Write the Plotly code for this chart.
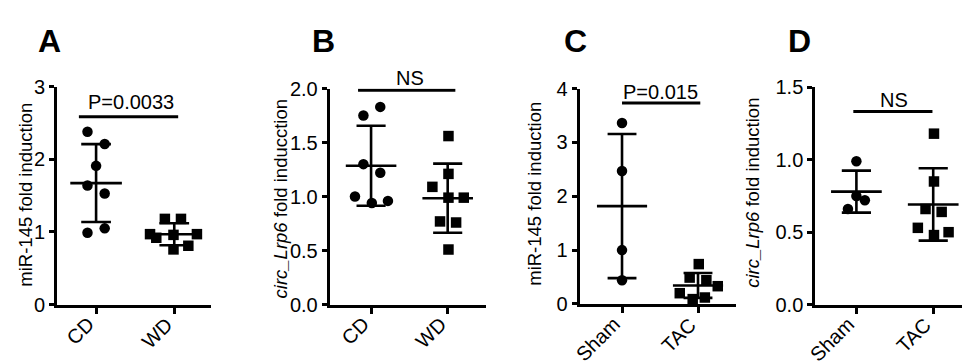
import numpy as np
import plotly.graph_objects as go

# ---------------- data ----------------
panel_letters = ["A", "B", "C", "D"]
cats_diet = ["CD", "WD"]
cats_surg = ["Sham", "TAC"]

y_titles = [
    "miR-145 fold induction",
    "<i>circ_Lrp6</i> fold inducction",
    "miR-145 fold induction",
    "<i>circ_Lrp6</i> fold induction",
]
sig_labels = ["P=0.0033", "NS", "P=0.015", "NS"]

# Panel A : miR-145, CD vs WD
a_cd = [2.38, 2.21, 1.91, 1.64, 1.53, 1.05, 0.99]
a_cd_jit = [-0.11, 0.11, 0.0, -0.11, 0.11, 0.11, -0.11]
a_wd = [1.18, 1.18, 0.97, 0.92, 0.96, 0.97, 0.81, 0.76]
a_wd_jit = [-0.12, 0.086, -0.31, -0.23, -0.01, 0.29, 0.18, -0.01]

# Panel B : circ_Lrp6, CD vs WD
b_cd = [1.75, 1.83, 1.30, 1.22, 1.00, 0.94, 0.96]
b_cd_jit = [-0.10, 0.12, -0.10, 0.12, -0.21, 0.01, 0.22]
b_wd = [1.56, 1.21, 1.09, 0.99, 0.99, 0.77, 0.76, 0.51]
b_wd_jit = [0.01, 0.01, -0.20, 0.01, 0.21, -0.10, 0.11, 0.01]

# Panel C : miR-145, Sham vs TAC
c_sham = [3.36, 2.47, 1.00, 0.44]
c_sham_jit = [0.0, 0.0, 0.0, 0.0]
c_tac = [0.74, 0.49, 0.44, 0.33, 0.20, 0.09, 0.12]
c_tac_jit = [0.01, -0.11, 0.11, 0.26, -0.24, -0.07, 0.09]

# Panel D : circ_Lrp6, Sham vs TAC
d_sham = [0.99, 0.75, 0.72, 0.66]
d_sham_jit = [0.0, 0.0, 0.11, -0.11]
d_tac = [1.18, 0.85, 0.66, 0.64, 0.53, 0.48, 0.50]
d_tac_jit = [0.01, 0.01, -0.10, 0.11, -0.20, 0.01, 0.20]

# significance bar heights
sig_bar_y = [2.585, 1.983, 3.73, 1.333]
y_max = [3, 2.0, 4, 1.5]
y_dtick = [1, 0.5, 1, 0.5]

# ---------------- layout geometry ----------------
W, H = 970, 364
FONT = "Liberation Sans, Arial, Helvetica, sans-serif"
BLACK = "#000000"
TICK_FS = 20
TITLE_FS = 18.5
XLAB_TOP_PX = 310   # top of the rotated category labels' boxes
XLAB_SHIFT = 5      # px to the right of the tick

panels = [
    dict(cats=cats_diet, g1=a_cd, j1=a_cd_jit, g2=a_wd, j2=a_wd_jit,
         x0=49, x1=203, ytop=72, ybot=304, xr=[-0.5, 1.47], fmt="d",
         bar=(-0.22, 1.05), sig_px=(122.5, 88),
         tx=18, ty=187, lx=41),
    dict(cats=cats_diet, g1=b_cd, j1=b_cd_jit, g2=b_wd, j2=b_wd_jit,
         x0=321.7, x1=478, ytop=74, ybot=304, xr=[-0.54, 1.5], fmt=".1f",
         bar=(-0.17, 1.10), sig_px=(401.7, 63),
         tx=272, ty=191, lx=315),
    dict(cats=cats_surg, g1=c_sham, j1=c_sham_jit, g2=c_tac, j2=c_tac_jit,
         x0=571.7, x1=728, ytop=74, ybot=303.3, xr=[-0.557, 1.5], fmt="d",
         bar=(0.0, 1.03), sig_px=(652.7, 78),
         tx=527, ty=186, lx=567),
    dict(cats=cats_surg, g1=d_sham, j1=d_sham_jit, g2=d_tac, j2=d_tac_jit,
         x0=807.3, x1=969, ytop=72.7, ybot=304, xr=[-0.535, 1.57], fmt=".1f",
         bar=(-0.04, 0.99), sig_px=(885.7, 86),
         tx=745, ty=185, lx=791),
]

MEAN_HALF = 0.33
CAP_HALF = 0.19
LW = 2.6

fig = go.Figure()
layout = dict(
    width=W, height=H,
    margin=dict(l=0, r=0, t=0, b=0),
    paper_bgcolor="white", plot_bgcolor="white",
    showlegend=False,
    font=dict(family=FONT, color=BLACK, size=18),
)
annotations = []

for i, p in enumerate(panels):
    n = "" if i == 0 else str(i + 1)
    xa, ya = "x" + n, "y" + n
    layout["xaxis" + n] = dict(
        domain=[p["x0"] / W, p["x1"] / W], range=p["xr"], anchor=ya,
        tickvals=[0, 1], showticklabels=False,
        showline=True, linecolor=BLACK, linewidth=3,
        ticks="outside", ticklen=6, tickwidth=3, tickcolor=BLACK,
        showgrid=False, zeroline=False, fixedrange=True,
    )
    layout["yaxis" + n] = dict(
        domain=[1 - p["ybot"] / H, 1 - p["ytop"] / H], range=[0, y_max[i]],
        anchor=xa, tick0=0, dtick=y_dtick[i], tickformat=p["fmt"],
        showline=True, linecolor=BLACK, linewidth=3,
        ticks="outside", ticklen=5, tickwidth=2.5, tickcolor=BLACK,
        showgrid=False, zeroline=False, fixedrange=True,
        tickfont=dict(family=FONT, size=TICK_FS, color=BLACK),
    )

    # rotated category labels
    for k, cat in enumerate(p["cats"]):
        annotations.append(dict(
            x=k, y=1 - XLAB_TOP_PX / H, xref=xa, yref="paper",
            text=cat, textangle=-45, showarrow=False,
            xanchor="right", yanchor="top", xshift=XLAB_SHIFT,
            font=dict(family=FONT, size=TICK_FS, color=BLACK)))

    for k, (vals, jit, sym) in enumerate([(p["g1"], p["j1"], "circle"),
                                          (p["g2"], p["j2"], "square")]):
        v = np.array(vals, dtype=float)
        xs = k + np.array(jit, dtype=float)
        fig.add_trace(go.Scatter(
            x=xs, y=v, mode="markers", xaxis=xa, yaxis=ya, cliponaxis=False,
            marker=dict(symbol=sym, size=10.5, color=BLACK, line=dict(width=0)),
            hoverinfo="y"))
        m = v.mean()
        sd = v.std(ddof=1)
        lx_ = [k - MEAN_HALF, k + MEAN_HALF, None,
               k, k, None,
               k - CAP_HALF, k + CAP_HALF, None,
               k - CAP_HALF, k + CAP_HALF]
        ly_ = [m, m, None,
               m - sd, m + sd, None,
               m + sd, m + sd, None,
               m - sd, m - sd]
        fig.add_trace(go.Scatter(
            x=lx_, y=ly_, mode="lines", xaxis=xa, yaxis=ya,
            line=dict(color=BLACK, width=LW), hoverinfo="skip"))

    # significance bar
    b0, b1 = p["bar"]
    fig.add_trace(go.Scatter(
        x=[b0, b1], y=[sig_bar_y[i], sig_bar_y[i]], mode="lines",
        xaxis=xa, yaxis=ya, line=dict(color=BLACK, width=3), hoverinfo="skip"))
    annotations.append(dict(
        x=p["sig_px"][0] / W, y=1 - p["sig_px"][1] / H, xref="paper", yref="paper",
        text=sig_labels[i], showarrow=False, xanchor="center", yanchor="middle",
        font=dict(family=FONT, size=TICK_FS, color=BLACK)))

    # y-axis title
    annotations.append(dict(
        x=p["tx"] / W, y=1 - p["ty"] / H, xref="paper", yref="paper",
        text=y_titles[i], textangle=-90, showarrow=False,
        xanchor="center", yanchor="middle",
        font=dict(family=FONT, size=TITLE_FS, color=BLACK)))

    # panel letter
    annotations.append(dict(
        x=p["lx"] / W, y=1 - 23 / H, xref="paper", yref="paper",
        text="<b>" + panel_letters[i] + "</b>", showarrow=False,
        xanchor="center", yanchor="middle",
        font=dict(family=FONT, size=32, color=BLACK)))

layout["annotations"] = annotations
fig.update_layout(**layout)
fig.write_html("out.html")
